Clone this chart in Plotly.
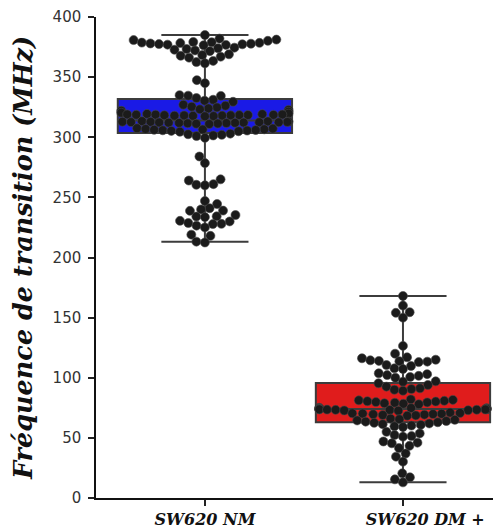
import numpy as np
import plotly.graph_objects as go

# ---------------- data ----------------
categories = ["SW620 NM", "SW620 DM +"]
tick_labels = ["SW620 NM", "\u00a0\u00a0\u00a0\u00a0\u00a0\u00a0\u00a0\u00a0SW620 DM +"]
y_title = "\u00a0\u00a0\u00a0Fréquence de transition (MHz)"

nm_values = [
    385.0,
    382.0, 381.2, 380.8, 380.2,
    379.2, 379.0, 378.7, 378.5, 378.3, 378.0, 377.8, 377.5, 377.3, 377.0, 376.8, 376.5,
    374.5, 374.0, 373.4, 372.8, 372.2, 371.6,
    369.0, 368.3, 367.8, 367.0, 366.2,
    363.5, 362.5, 361.5,
    347.5, 345.0,
    335.0, 334.6, 334.4, 332.6, 331.2, 330.4, 329.5,
    327.0, 326.2, 325.4, 324.8, 324.0, 323.2, 322.7, 322.0, 321.2, 320.4,
    319.6, 319.4, 319.2, 319.0, 318.9, 318.8, 318.7, 318.6, 318.5, 318.4, 318.3, 318.2,
    318.1, 318.0, 317.9, 317.8, 317.6, 317.4,
    313.4, 313.2, 313.0, 312.9, 312.8, 312.7, 312.6, 312.5, 312.4, 312.3, 312.2, 312.1,
    312.0, 311.9, 311.8, 311.6, 311.4, 311.2, 311.0,
    307.5, 307.2, 306.9, 306.6, 306.4, 306.2, 306.0, 305.8, 305.6, 305.3, 305.0, 304.6,
    303.0, 302.5, 302.0, 301.5, 301.0,
    299.5,
    284.0, 278.5,
    265.0, 264.0, 261.0, 260.5, 260.0,
    247.0, 244.5,
    241.0, 240.0, 239.0, 238.8, 235.3, 234.2,
    234.0, 233.6, 230.5, 230.0, 228.7, 228.0, 227.8, 226.5, 225.0,
    219.0, 218.0,
    213.2, 212.5,
]

dm_values = [
    168.0,
    160.0, 154.5, 154.0, 150.0,
    126.5,
    120.0, 117.0, 116.2, 115.0, 114.5, 114.0, 113.8, 113.4, 113.0,
    110.6, 109.8, 107.8, 107.3,
    103.7, 103.0, 102.2, 101.6, 100.6, 100.0,
    97.0, 96.7, 95.4, 94.0, 92.6,
    91.2, 90.6, 90.0, 89.2,
    82.0, 81.6, 81.2, 80.8, 80.5, 80.2, 79.8, 79.5, 79.2, 78.8, 78.4, 78.0,
    75.0, 74.8, 74.6, 74.5, 74.4, 74.3, 74.2, 74.1, 74.0, 73.9, 73.8, 73.7,
    73.6, 73.5, 73.4, 73.3, 73.2, 73.0, 72.8, 72.6,
    71.0, 70.7, 70.4, 70.2, 70.0, 69.8, 69.6, 69.3, 69.0, 68.7, 68.4,
    66.0, 65.5, 65.0, 64.5, 64.0, 63.5, 63.0, 62.5,
    62.0, 61.4, 60.8, 60.2, 59.6, 59.0,
    55.0, 53.7, 52.4, 51.5, 51.0,
    47.0, 46.0, 45.5, 43.4, 41.5,
    37.0, 34.4, 30.2,
    20.5, 17.2, 15.5, 13.0,
]

# box statistics
q1 = [303.5, 63.0]
median = [314.0, 74.0]
q3 = [331.8, 95.6]
lower_fence = [213.0, 13.0]
upper_fence = [385.0, 168.0]

box_colors = ["#1a1ae6", "#e01c1c"]

# ---------------- layout constants ----------------
# the page body adds an 8px margin, so the figure is 8px smaller than the window
W, H = 493, 524
M_L, M_R, M_T, M_B = 88, 0, 9, 34
X_RANGE = [-0.55, 1.495]
Y_RANGE = [0, 400]
BOX_WIDTH = 0.88
DOT = 9
SWARM_D = 8.6

px_per_x = (W - M_L - M_R) / (X_RANGE[1] - X_RANGE[0])
px_per_y = (H - M_T - M_B) / (Y_RANGE[1] - Y_RANGE[0])


def swarm_offsets(values, d, half_width_px):
    vals = np.asarray(values, dtype=float)
    order = np.argsort(vals, kind="stable")
    placed = []
    offs = np.zeros(len(vals))
    for i in order:
        y = vals[i] * px_per_y
        neigh = [(px, py) for px, py in placed if abs(py - y) < d]
        cands = [0.0]
        for px, py in neigh:
            dx = np.sqrt(max(d * d - (py - y) ** 2, 0.0))
            cands += [px - dx, px + dx]
        cands = sorted(cands, key=lambda c: (round(abs(c), 6), c))
        chosen = cands[-1]
        for c in cands:
            if all((c - px) ** 2 + (y - py) ** 2 >= d * d - 1e-6 for px, py in neigh):
                chosen = c
                break
        placed.append((chosen, y))
        offs[i] = chosen
    offs = np.clip(offs, -half_width_px, half_width_px)
    return offs / px_per_x


fig = go.Figure()

groups = [nm_values, dm_values]
for k, vals in enumerate(groups):
    fig.add_trace(go.Box(
        x=[k], q1=[q1[k]], median=[median[k]], q3=[q3[k]],
        lowerfence=[lower_fence[k]], upperfence=[upper_fence[k]],
        width=BOX_WIDTH, whiskerwidth=0.5,
        fillcolor=box_colors[k],
        line=dict(color="#3c3c3c", width=2),
        boxpoints=False, showlegend=False, hoverinfo="skip",
        name=categories[k],
    ))

half_w_px = BOX_WIDTH / 2 * px_per_x - DOT / 2 + 1
for k, vals in enumerate(groups):
    offs = swarm_offsets(vals, SWARM_D, half_w_px)
    fig.add_trace(go.Scatter(
        x=k + offs, y=vals, mode="markers",
        marker=dict(size=DOT, color="#1b1b1b", line=dict(color="#4a4a4a", width=0.6)),
        showlegend=False, name=categories[k],
    ))

fig.update_layout(
    width=W, height=H, autosize=False,
    margin=dict(l=M_L, r=M_R, t=M_T, b=M_B, pad=0),
    paper_bgcolor="white", plot_bgcolor="white",
    showlegend=False,
    xaxis=dict(
        range=X_RANGE, tickmode="array", tickvals=[0, 1], ticktext=tick_labels,
        automargin=False,
        showgrid=False, zeroline=False, showline=True, linecolor="#111", linewidth=1.5,
        ticks="outside", ticklen=6, tickwidth=1.5, tickcolor="#222",
        tickfont=dict(family="DejaVu Serif", size=16, color="#111", weight="bold", style="italic"),
    ),
    yaxis=dict(
        range=Y_RANGE, tickmode="array", tickvals=[0, 50, 100, 150, 200, 250, 300, 350, 400],
        automargin=False,
        showgrid=False, zeroline=False, showline=True, linecolor="#111", linewidth=1.5,
        ticks="outside", ticklen=6, tickwidth=1.5, tickcolor="#222",
        ticklabelstandoff=4,
        tickfont=dict(family="DejaVu Sans", size=15, color="#333"),
        title=dict(text=y_title, standoff=15,
                   font=dict(family="DejaVu Serif", size=25.5, color="#111", weight="bold", style="italic")),
    ),
)

fig.write_html("out.html")
